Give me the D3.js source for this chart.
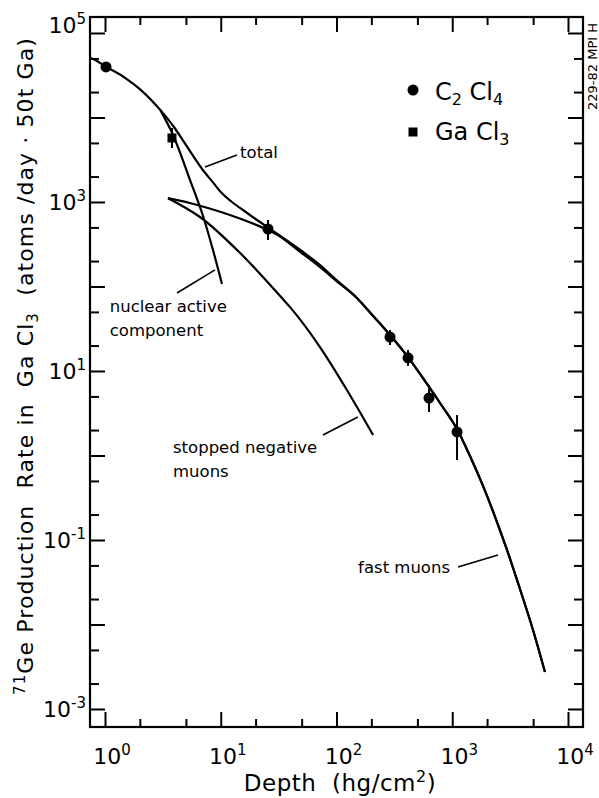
<!DOCTYPE html>
<html>
<head>
<meta charset="utf-8">
<script src="https://cdn.jsdelivr.net/npm/d3@7"></script>
<style>
  body { margin: 0; background: #fff; }
  svg { display: block; }
  text { font-family: "DejaVu Sans", sans-serif; fill: #000; white-space: pre; }
</style>
</head>
<body>
<svg id="chart" width="599" height="798"></svg>
<script>
// curves (depth in hg/cm2, rate in atoms/day per 50t Ga)
var totalDepth = [0.75, 0.85, 1, 1.5, 2, 3, 4, 5, 7, 8.5, 10, 12.5, 16, 20, 30, 50, 70, 100, 150, 200, 300, 415, 605, 784, 1099, 1423, 1845, 2436, 2972, 3847, 4986, 6325];
var totalRate = [50600, 46700, 40600, 29300, 21700, 12300, 7510, 4730, 2390, 1730, 1310, 1000, 782, 629, 430, 263, 185, 119, 73.1, 47.3, 25.3, 14.6, 7.02, 4.18, 2.06, 0.986, 0.436, 0.163, 0.0762, 0.0263, 0.00861, 0.00274];

var nuclearDepth = [3, 3.87, 5.43, 7.03, 8.57, 10.25];
var nuclearRate = [12300, 6210, 1820, 683, 270, 107];

var fastDepth = [3.5, 5.4, 8, 12, 18, 25.6, 30, 50, 70, 100, 150, 200, 300, 415, 605, 784, 1099, 1423, 1845, 2436, 2972, 3847, 4986, 6325];
var fastRate = [1110, 973, 838, 702, 572, 466, 418, 249, 175, 116, 73.1, 47.3, 25.3, 14.6, 7.02, 4.18, 2.06, 0.986, 0.436, 0.163, 0.0762, 0.0263, 0.00861, 0.00274];

var stoppedDepth = [3.5, 6.62, 14.7, 33.8, 39.7, 72, 123, 207];
var stoppedRate = [1110, 664, 249, 73, 57, 19.2, 5.96, 1.75];

// measurements
var c2cl4Depth = [1.02, 25.6, 290, 415, 630, 1100];
var c2cl4Rate = [39600, 479, 25.2, 14.3, 4.79, 1.90];
var c2cl4Low = [null, 355, 20.3, 11.5, 3.27, 0.885];
var c2cl4High = [null, 612, 30.5, 17.7, 6.8, 3.01];

var gacl3Depth = [3.79];
var gacl3Rate = [5720];
var gacl3Low = [4350];
var gacl3High = [7520];

// ticks
var xMajor = [1, 10, 100, 1000, 10000];
var xMinor = [2, 5, 20, 50, 200, 500, 2000, 5000];
var yMajor = [1e-3, 1e-2, 1e-1, 1, 10, 100, 1e3, 1e4, 1e5];
var yMinor = [2e-3, 5e-3, 2e-2, 5e-2, 0.2, 0.5, 2, 5, 20, 50, 200, 500, 2e3, 5e3, 2e4, 5e4];
var yLabels = [1e-3, 1e-1, 10, 1e3, 1e5];

var svg = d3.select('#chart');

var x = d3.scaleLog()
  .domain([0.742, 13480])
  .range([90, 583]);
var y = d3.scaleLog()
  .domain([6.12e-4, 1.546e5])
  .range([727, 17]);

function zip(a, b) {
  return a.map(function (d, i) { return [d, b[i]]; });
}

// ticks on all four sides, pointing inwards
function tickGroup(axis, tx, ty) {
  svg.append('g')
    .attr('transform', 'translate(' + tx + ',' + ty + ')')
    .call(axis)
    .call(function (g) { g.select('.domain').remove(); })
    .selectAll('line')
    .attr('stroke', '#000')
    .attr('stroke-width', 2);
}
tickGroup(d3.axisBottom(x).tickValues(xMajor).tickSize(-15).tickFormat(''), 0, 727);
tickGroup(d3.axisBottom(x).tickValues(xMinor).tickSize(-8).tickFormat(''), 0, 727);
tickGroup(d3.axisTop(x).tickValues(xMajor).tickSize(-15).tickFormat(''), 0, 17);
tickGroup(d3.axisTop(x).tickValues(xMinor).tickSize(-8).tickFormat(''), 0, 17);
tickGroup(d3.axisLeft(y).tickValues(yMajor).tickSize(-15).tickFormat(''), 90, 0);
tickGroup(d3.axisLeft(y).tickValues(yMinor).tickSize(-9).tickFormat(''), 90, 0);
tickGroup(d3.axisRight(y).tickValues(yMajor).tickSize(-15).tickFormat(''), 583, 0);
tickGroup(d3.axisRight(y).tickValues(yMinor).tickSize(-9).tickFormat(''), 583, 0);

// frame
svg.append('rect')
  .attr('x', 90).attr('y', 17)
  .attr('width', 493).attr('height', 710)
  .attr('fill', 'none')
  .attr('stroke', '#000')
  .attr('stroke-width', 2.2);

// tick labels
xMajor.forEach(function (v) {
  var t = svg.append('text')
    .attr('x', x(v) + 7)
    .attr('y', 764)
    .attr('text-anchor', 'middle')
    .attr('font-size', 22);
  t.append('tspan').text('10');
  t.append('tspan').attr('font-size', 15).attr('dy', -9).text(Math.round(Math.log10(v)));
});

yLabels.forEach(function (v) {
  var e = Math.round(Math.log10(v));
  var t = svg.append('text')
    .attr('x', 86)
    .attr('y', y(v) + (e === 5 ? 0 : 8))
    .attr('text-anchor', 'end')
    .attr('font-size', 22);
  t.append('tspan').text('10');
  t.append('tspan').attr('font-size', 15).attr('dy', -9).text(e < 0 ? '-' + (-e) : e);
});

// axis titles
var xt = svg.append('text')
  .attr('x', 340).attr('y', 791)
  .attr('text-anchor', 'middle')
  .attr('font-size', 23)
  .attr('letter-spacing', 0.5);
xt.append('tspan').text('Depth  (hg/cm');
xt.append('tspan').attr('font-size', 16).attr('dy', -9).text('2');
xt.append('tspan').attr('dy', 9).text(')');

var yt = svg.append('text')
  .attr('transform', 'translate(33,366) rotate(-90)')
  .attr('text-anchor', 'middle')
  .attr('font-size', 22)
  .attr('letter-spacing', 1.1);
yt.append('tspan').attr('font-size', 15).attr('dy', -8).text('71');
yt.append('tspan').attr('dy', 8).text('Ge Production  Rate in  Ga Cl');
yt.append('tspan').attr('font-size', 15).attr('dy', 5).text('3');
yt.append('tspan').attr('dy', -5).text('  (atoms /day · 50t Ga)');

// stamp on the right edge
svg.append('text')
  .attr('transform', 'translate(597,110) rotate(-90)')
  .attr('font-size', 13)
  .text('229-82 MPI H');

// curves
var line = d3.line()
  .x(function (d) { return x(d[0]); })
  .y(function (d) { return y(d[1]); })
  .curve(d3.curveMonotoneX);

[zip(totalDepth, totalRate), zip(nuclearDepth, nuclearRate), zip(fastDepth, fastRate), zip(stoppedDepth, stoppedRate)]
  .forEach(function (c) {
    svg.append('path')
      .datum(c)
      .attr('d', line)
      .attr('fill', 'none')
      .attr('stroke', '#000')
      .attr('stroke-width', 2.2);
  });

// error bars
var bars = zip(c2cl4Depth, c2cl4Low.map(function (d, i) { return [d, c2cl4High[i]]; }))
  .concat(zip(gacl3Depth, gacl3Low.map(function (d, i) { return [d, gacl3High[i]]; })))
  .filter(function (d) { return d[1][0] != null; });
svg.selectAll('line.err')
  .data(bars)
  .enter()
  .append('line')
  .attr('class', 'err')
  .attr('x1', function (d) { return x(d[0]); })
  .attr('x2', function (d) { return x(d[0]); })
  .attr('y1', function (d) { return y(d[1][0]); })
  .attr('y2', function (d) { return y(d[1][1]); })
  .attr('stroke', '#000')
  .attr('stroke-width', 2);

svg.selectAll('circle.c2')
  .data(zip(c2cl4Depth, c2cl4Rate))
  .enter()
  .append('circle')
  .attr('class', 'c2')
  .attr('cx', function (d) { return x(d[0]); })
  .attr('cy', function (d) { return y(d[1]); })
  .attr('r', 5.5)
  .attr('fill', '#000');

svg.selectAll('rect.ga')
  .data(zip(gacl3Depth, gacl3Rate))
  .enter()
  .append('rect')
  .attr('class', 'ga')
  .attr('x', function (d) { return x(d[0]) - 4.5; })
  .attr('y', function (d) { return y(d[1]) - 4.5; })
  .attr('width', 9)
  .attr('height', 9)
  .attr('fill', '#000');

// curve labels and leader lines (in data units)
var leaders = [
  [[7.31, 2590], [13.8, 3590]],
  [[4.19, 83.8], [8.92, 157]],
  [[76.4, 1.75], [153, 2.86]],
  [[1122, 0.0479], [2484, 0.0664]]
];
svg.selectAll('line.lead')
  .data(leaders)
  .enter()
  .append('line')
  .attr('x1', function (d) { return x(d[0][0]); })
  .attr('y1', function (d) { return y(d[0][1]); })
  .attr('x2', function (d) { return x(d[1][0]); })
  .attr('y2', function (d) { return y(d[1][1]); })
  .attr('stroke', '#000')
  .attr('stroke-width', 1.6);

function label(dx, dy, lines, anchor) {
  var t = svg.append('text')
    .attr('x', x(dx))
    .attr('y', y(dy))
    .attr('text-anchor', anchor || 'start')
    .attr('font-size', 16.5);
  lines.forEach(function (s, i) {
    t.append('tspan').attr('x', x(dx)).attr('dy', i ? 24 : 0).text(s);
  });
}
label(14.7, 3320, ['total']);
label(1.10, 49.9, ['nuclear active', 'component']);
label(3.87, 1.07, ['stopped negative', 'muons']);
label(957, 0.0406, ['fast muons'], 'end');

// legend
var lg = svg.append('g').attr('transform', 'translate(413,90)');
lg.append('circle').attr('r', 5.5).attr('fill', '#000');
lg.append('rect').attr('x', -4.5).attr('y', 37.5).attr('width', 9).attr('height', 9).attr('fill', '#000');
var l1 = lg.append('text').attr('x', 22).attr('y', 10).attr('font-size', 24);
l1.append('tspan').text('C');
l1.append('tspan').attr('font-size', 16).attr('dy', 5).text('2');
l1.append('tspan').attr('dy', -5).text(' Cl');
l1.append('tspan').attr('font-size', 16).attr('dy', 5).text('4');
var l2 = lg.append('text').attr('x', 22).attr('y', 50).attr('font-size', 24);
l2.append('tspan').text('Ga Cl');
l2.append('tspan').attr('font-size', 16).attr('dy', 5).text('3');
</script>
</body>
</html>
